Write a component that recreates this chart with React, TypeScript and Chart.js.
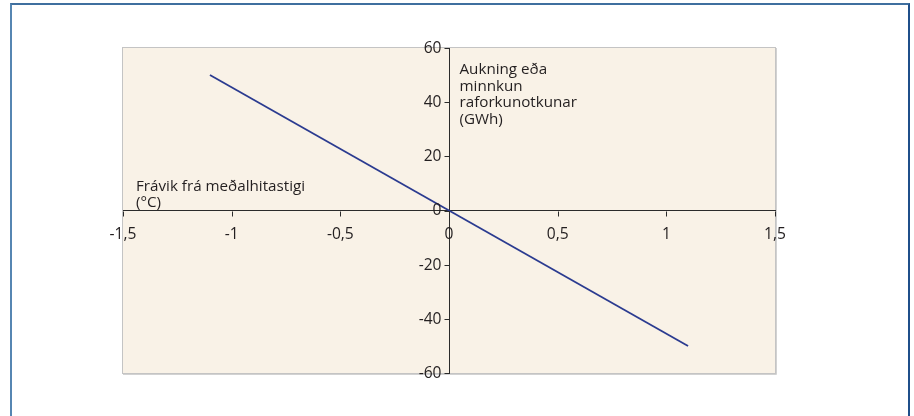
import React, { useEffect, useRef } from "react";
import { Chart, registerables } from "chart.js";

Chart.register(...registerables);

const xValues = [-1.1, 1.1];
const yValues = [50, -50];
const xMin = -1.5;
const xMax = 1.5;
const xStep = 0.5;
const yMin = -60;
const yMax = 60;
const yStep = 20;
const xTitleLines = ["Frávik frá meðalhitastigi", "(°C)"];
const yTitleLines = ["Aukning eða", "minnkun", "raforkunotkunar", "(GWh)"];

const FONT = "'Open Sans', 'Noto Sans', sans-serif";
const FONT_SIZE = 15.2;
const TICK_FONT_SIZE = 15.6;
const TEXT_COLOR = "#231f20";
const AXIS_COLOR = "#2b2b2b";

const fmt = (v: number | string) => String(v).replace(".", ",");

const bgPlugin = {
  id: "plotBg",
  beforeDraw(chart: any) {
    const { ctx, chartArea: a } = chart;
    ctx.save();
    ctx.fillStyle = "#f9f2e7";
    ctx.fillRect(a.left, a.top, a.right - a.left, a.bottom - a.top);
    ctx.strokeStyle = "#c4c4c4";
    ctx.lineWidth = 1;
    ctx.strokeRect(a.left - 0.5, a.top - 0.5, a.right - a.left + 1, a.bottom - a.top + 1);
    ctx.strokeStyle = "#d2d2d2";
    ctx.beginPath();
    ctx.moveTo(a.right + 1.5, a.top);
    ctx.lineTo(a.right + 1.5, a.bottom + 1.5);
    ctx.lineTo(a.left, a.bottom + 1.5);
    ctx.stroke();
    ctx.restore();
  },
};

const axesPlugin = {
  id: "axisTicksTitles",
  afterDraw(chart: any) {
    const { ctx, chartArea: a, scales } = chart;
    const xs = scales.x;
    const ys = scales.y;
    const x0 = Math.round(xs.getPixelForValue(0)) + 0.5;
    const y0 = Math.round(ys.getPixelForValue(0)) + 0.5;
    ctx.save();
    // tick marks
    ctx.strokeStyle = AXIS_COLOR;
    ctx.lineWidth = 1;
    ctx.beginPath();
    xs.ticks.forEach((t: any) => {
      const px = Math.round(xs.getPixelForValue(t.value)) + 0.5;
      ctx.moveTo(px, y0);
      ctx.lineTo(px, y0 + 5);
    });
    ys.ticks.forEach((t: any) => {
      const py = Math.round(ys.getPixelForValue(t.value)) + 0.5;
      ctx.moveTo(x0 - 5, py);
      ctx.lineTo(x0, py);
    });
    ctx.stroke();
    // tick labels
    ctx.fillStyle = TEXT_COLOR;
    ctx.font = `${TICK_FONT_SIZE}px ${FONT}`;
    ctx.textAlign = "center";
    ctx.textBaseline = "alphabetic";
    xs.ticks.forEach((t: any) => {
      ctx.fillText(fmt(t.value), xs.getPixelForValue(t.value), y0 + 27.5);
    });
    ctx.textAlign = "right";
    ctx.textBaseline = "middle";
    ys.ticks.forEach((t: any) => {
      ctx.fillText(fmt(t.value), x0 - 8, ys.getPixelForValue(t.value) + 0.5);
    });
    // axis titles
    ctx.font = `${FONT_SIZE}px ${FONT}`;
    ctx.textAlign = "left";
    ctx.textBaseline = "alphabetic";
    xTitleLines.forEach((t, i) => {
      ctx.fillText(t, a.left + 13, y0 - 21 + i * 16.5);
    });
    yTitleLines.forEach((t, i) => {
      ctx.fillText(t, x0 + 10, a.top + 26 + i * 16.5);
    });
    ctx.restore();
  },
};

export default function App() {
  const ref = useRef<HTMLCanvasElement | null>(null);
  useEffect(() => {
    if (!ref.current) return;
    const chart = new Chart(ref.current, {
      type: "scatter",
      data: {
        datasets: [
          {
            data: xValues.map((x, i) => ({ x, y: yValues[i] })),
            showLine: true,
            borderColor: "#2b3b90",
            borderWidth: 1.8,
            pointRadius: 0,
            fill: false,
          },
        ],
      },
      options: {
        animation: false,
        responsive: false,
        events: [],
        layout: { padding: { left: 123, top: 48, right: 139, bottom: 43 } },
        plugins: { legend: { display: false }, tooltip: { enabled: false } },
        scales: {
          x: {
            type: "linear",
            position: { y: 0 } as any,
            min: xMin,
            max: xMax,
            grid: { display: true, drawOnChartArea: false, drawTicks: false },
            border: { display: true, color: AXIS_COLOR, width: 1 },
            ticks: { stepSize: xStep, display: false },
          },
          y: {
            type: "linear",
            position: { x: 0 } as any,
            min: yMin,
            max: yMax,
            grid: { display: true, drawOnChartArea: false, drawTicks: false },
            border: { display: true, color: AXIS_COLOR, width: 1 },
            ticks: { stepSize: yStep, display: false },
          },
        },
      },
      plugins: [bgPlugin, axesPlugin],
    });
    return () => chart.destroy();
  }, []);

  return (
    <div style={{ position: "fixed", left: 0, top: 0, width: 914, height: 416, background: "#fff", overflow: "hidden" }}>
      <div
        style={{
          position: "absolute",
          left: 10,
          top: 3,
          width: 900,
          height: 430,
          boxSizing: "border-box",
          borderTop: "2px solid #3f6f9f",
          borderLeft: "2px solid #5686b2",
          borderRight: "2px solid #1f4f8a",
          borderBottom: "2px solid #1f4f8a",
        }}
      />
      <canvas ref={ref} width={914} height={416} style={{ position: "absolute", left: 0, top: 0 }} />
    </div>
  );
}
